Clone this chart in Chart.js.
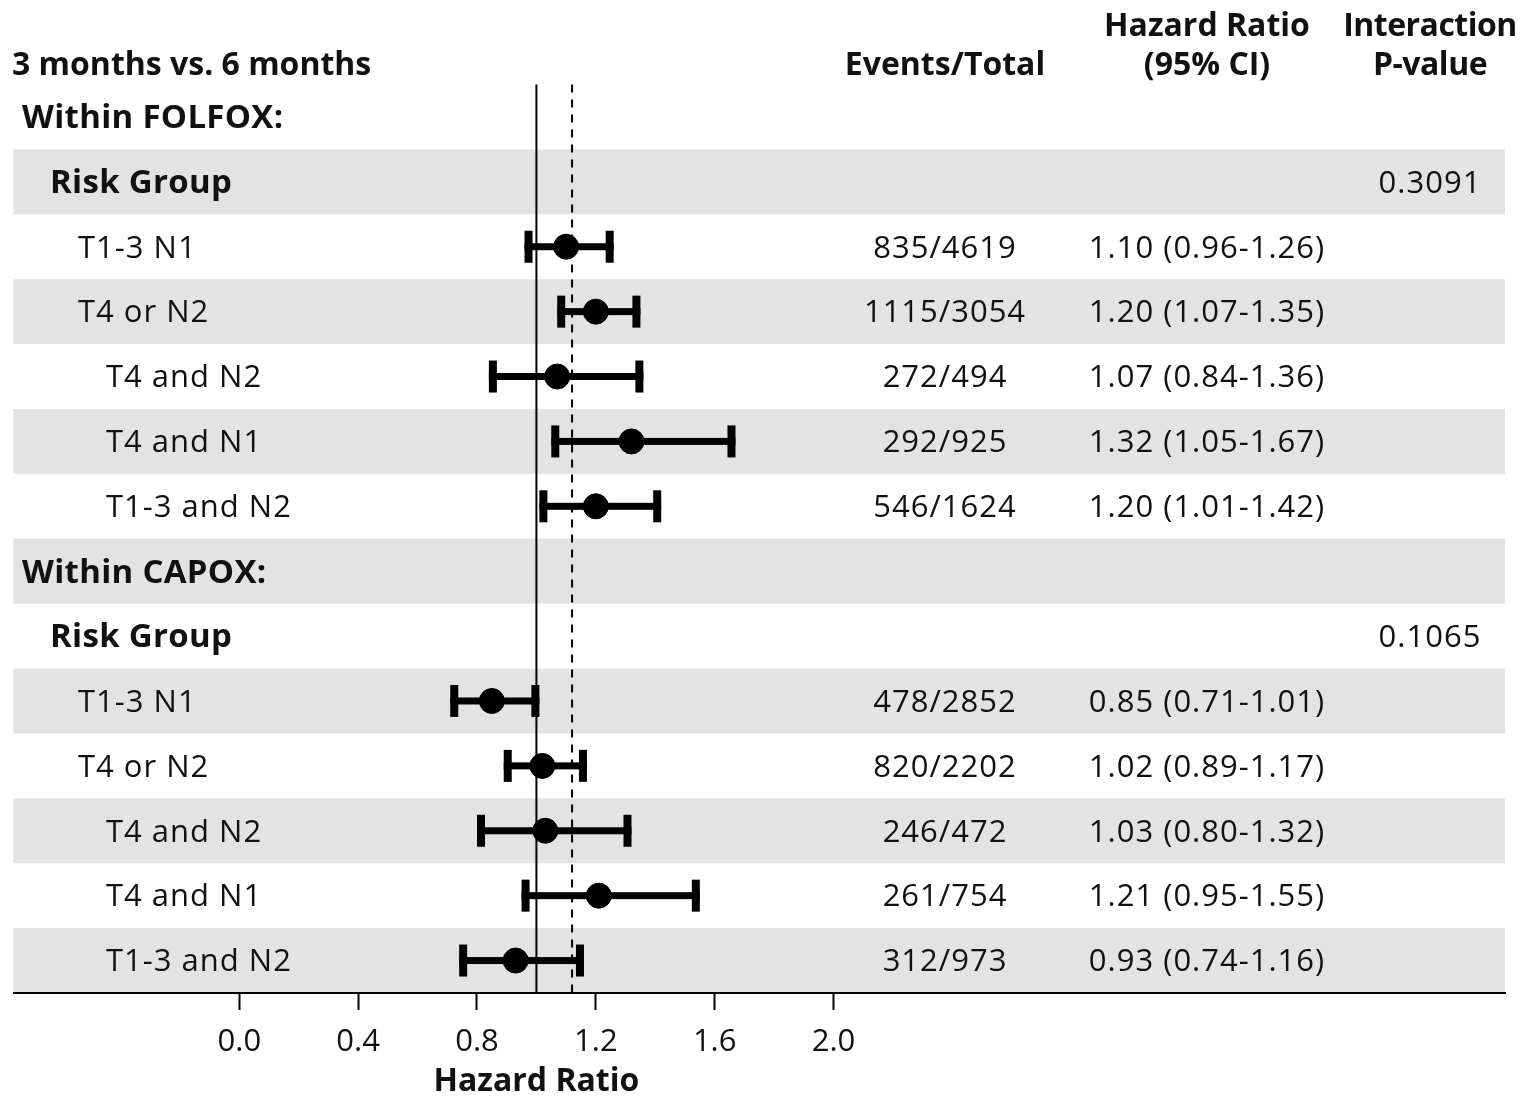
<!DOCTYPE html>
<html>
<head>
<meta charset="utf-8">
<title>Forest plot - 3 vs 6 months</title>
<script src="https://cdn.jsdelivr.net/npm/chart.js@4.4.1/dist/chart.umd.min.js"></script>
<style>
  html, body { margin: 0; padding: 0; background: #fff; }
  #wrap { width: 1523px; height: 1097px; position: relative; }
</style>
</head>
<body>
<div id="wrap"><canvas id="forest"></canvas></div>
<script>
// Rows, top to bottom
const rowLabels = ['Within FOLFOX:', 'Risk Group', 'T1-3 N1', 'T4 or N2', 'T4 and N2', 'T4 and N1', 'T1-3 and N2',
                   'Within CAPOX:', 'Risk Group', 'T1-3 N1', 'T4 or N2', 'T4 and N2', 'T4 and N1', 'T1-3 and N2'];
const rowLevels = [0, 1, 2, 2, 3, 3, 3, 0, 1, 2, 2, 3, 3, 3];

// Hazard ratios and 95% CI
const hrValues = [null, null, 1.10, 1.20, 1.07, 1.32, 1.20, null, null, 0.85, 1.02, 1.03, 1.21, 0.93];
const ciLower  = [null, null, 0.96, 1.07, 0.84, 1.05, 1.01, null, null, 0.71, 0.89, 0.80, 0.95, 0.74];
const ciUpper  = [null, null, 1.26, 1.35, 1.36, 1.67, 1.42, null, null, 1.01, 1.17, 1.32, 1.55, 1.16];

const eventsTotal = ['', '', '835/4619', '1115/3054', '272/494', '292/925', '546/1624',
                     '', '', '478/2852', '820/2202', '246/472', '261/754', '312/973'];
const pValues = ['', '0.3091', '', '', '', '', '', '', '0.1065', '', '', '', '', ''];

const xTicks = [0.0, 0.4, 0.8, 1.2, 1.6, 2.0];
const nullLine = 1.0;
const overallHR = 1.12;

const FONT = '"Open Sans", "Noto Sans", sans-serif';

const pointData = [];
hrValues.forEach((v, i) => { if (v !== null) pointData.push({ x: v, y: i }); });

function hrLabel(i) {
    if (hrValues[i] === null) return '';
    return hrValues[i].toFixed(2) + ' (' + ciLower[i].toFixed(2) + '-' + ciUpper[i].toFixed(2) + ')';
}

// Gray row bands, reference lines, CI bars and all the table text
const forestPlugin = {
    id: 'forest',
    beforeDraw(chart) {
        const { ctx, chartArea: a, scales: { y } } = chart;
        ctx.save();
        ctx.fillStyle = '#e3e3e3';
        rowLabels.forEach((lab, i) => {
            if (i % 2 === 1) {
                const t = y.getPixelForValue(i - 0.5);
                const b = y.getPixelForValue(i + 0.5);
                ctx.fillRect(a.left, t, a.right - a.left, b - t);
            }
        });
        ctx.restore();
    },
    beforeDatasetsDraw(chart) {
        const { ctx, chartArea: a, scales: { x, y } } = chart;
        ctx.save();
        // reference lines
        ctx.strokeStyle = '#000';
        ctx.lineWidth = 2;
        ctx.beginPath();
        ctx.moveTo(x.getPixelForValue(nullLine), a.top);
        ctx.lineTo(x.getPixelForValue(nullLine), a.bottom);
        ctx.stroke();
        ctx.setLineDash([8, 7]);
        ctx.beginPath();
        ctx.moveTo(x.getPixelForValue(overallHR), a.top);
        ctx.lineTo(x.getPixelForValue(overallHR), a.bottom);
        ctx.stroke();
        ctx.setLineDash([]);
        // confidence intervals
        ctx.fillStyle = '#000';
        hrValues.forEach((v, i) => {
            if (v === null) return;
            const x0 = x.getPixelForValue(ciLower[i]);
            const x1 = x.getPixelForValue(ciUpper[i]);
            const yc = y.getPixelForValue(i);
            ctx.fillRect(x0, yc - 3.5, x1 - x0, 7);
            ctx.fillRect(x0, yc - 16, 8, 32);
            ctx.fillRect(x1 - 8, yc - 16, 8, 32);
        });
        ctx.restore();
    },
    afterDraw(chart) {
        const { ctx, scales: { x, y } } = chart;
        ctx.save();
        ctx.fillStyle = '#111';
        ctx.textBaseline = 'middle';
        // headers
        ctx.font = 'bold 32px ' + FONT;
        ctx.textAlign = 'left';
        ctx.fillText('3 months vs. 6 months', 12, 66);
        ctx.textAlign = 'center';
        ctx.fillText('Events/Total', 945, 66);
        ctx.fillText('Hazard Ratio', 1207, 27);
        ctx.fillText('(95% CI)', 1207, 66);
        ctx.letterSpacing = '-0.5px';
        ctx.fillText('Interaction', 1430, 27);
        ctx.fillText('P-value', 1430, 66);
        ctx.letterSpacing = '0px';
        ctx.fillText('Hazard Ratio', x.getPixelForValue(nullLine), 1082);
        // rows
        rowLabels.forEach((lab, i) => {
            const yc = y.getPixelForValue(i) + 2;
            const lvl = rowLevels[i];
            ctx.letterSpacing = lvl < 2 ? '0.3px' : '1px';
            ctx.font = (lvl < 2 ? 'bold 33px ' : '31px ') + FONT;
            ctx.textAlign = 'left';
            ctx.fillText(lab, 22 + 28 * lvl, yc);
            ctx.font = '31px ' + FONT;
            ctx.letterSpacing = '1px';
            ctx.textAlign = 'center';
            if (eventsTotal[i]) ctx.fillText(eventsTotal[i], 945, yc);
            if (hrValues[i] !== null) ctx.fillText(hrLabel(i), 1207, yc);
            if (pValues[i]) ctx.fillText(pValues[i], 1430, yc);
        });
        ctx.restore();
    }
};

new Chart(document.getElementById('forest'), {
    type: 'scatter',
    data: {
        datasets: [{
            data: pointData,
            backgroundColor: '#000',
            borderColor: '#000',
            pointRadius: 12.5,
            pointHoverRadius: 12.5
        }]
    },
    options: {
        responsive: true,
        maintainAspectRatio: false,
        animation: false,
        layout: { padding: { left: 12, right: 18, top: 84.5, bottom: 0 } },
        plugins: { legend: { display: false }, tooltip: { enabled: false } },
        scales: {
            x: {
                type: 'linear',
                min: -0.76,
                max: 4.26,
                afterBuildTicks: (scale) => { scale.ticks = xTicks.map(v => ({ value: v })); },
                afterFit: (scale) => { scale.height = 104; },
                grid: { drawOnChartArea: false, drawTicks: true, tickLength: 17, tickWidth: 2, tickColor: '#000' },
                border: { display: true, color: '#000', width: 2 },
                ticks: {
                    color: '#111',
                    font: { family: FONT, size: 31 },
                    padding: 14,
                    maxRotation: 0,
                    callback: (v) => Number(v).toFixed(1)
                }
            },
            y: {
                type: 'linear',
                display: false,
                reverse: true,
                min: -0.5,
                max: 13.5
            }
        }
    },
    plugins: [forestPlugin]
});
</script>
</body>
</html>
